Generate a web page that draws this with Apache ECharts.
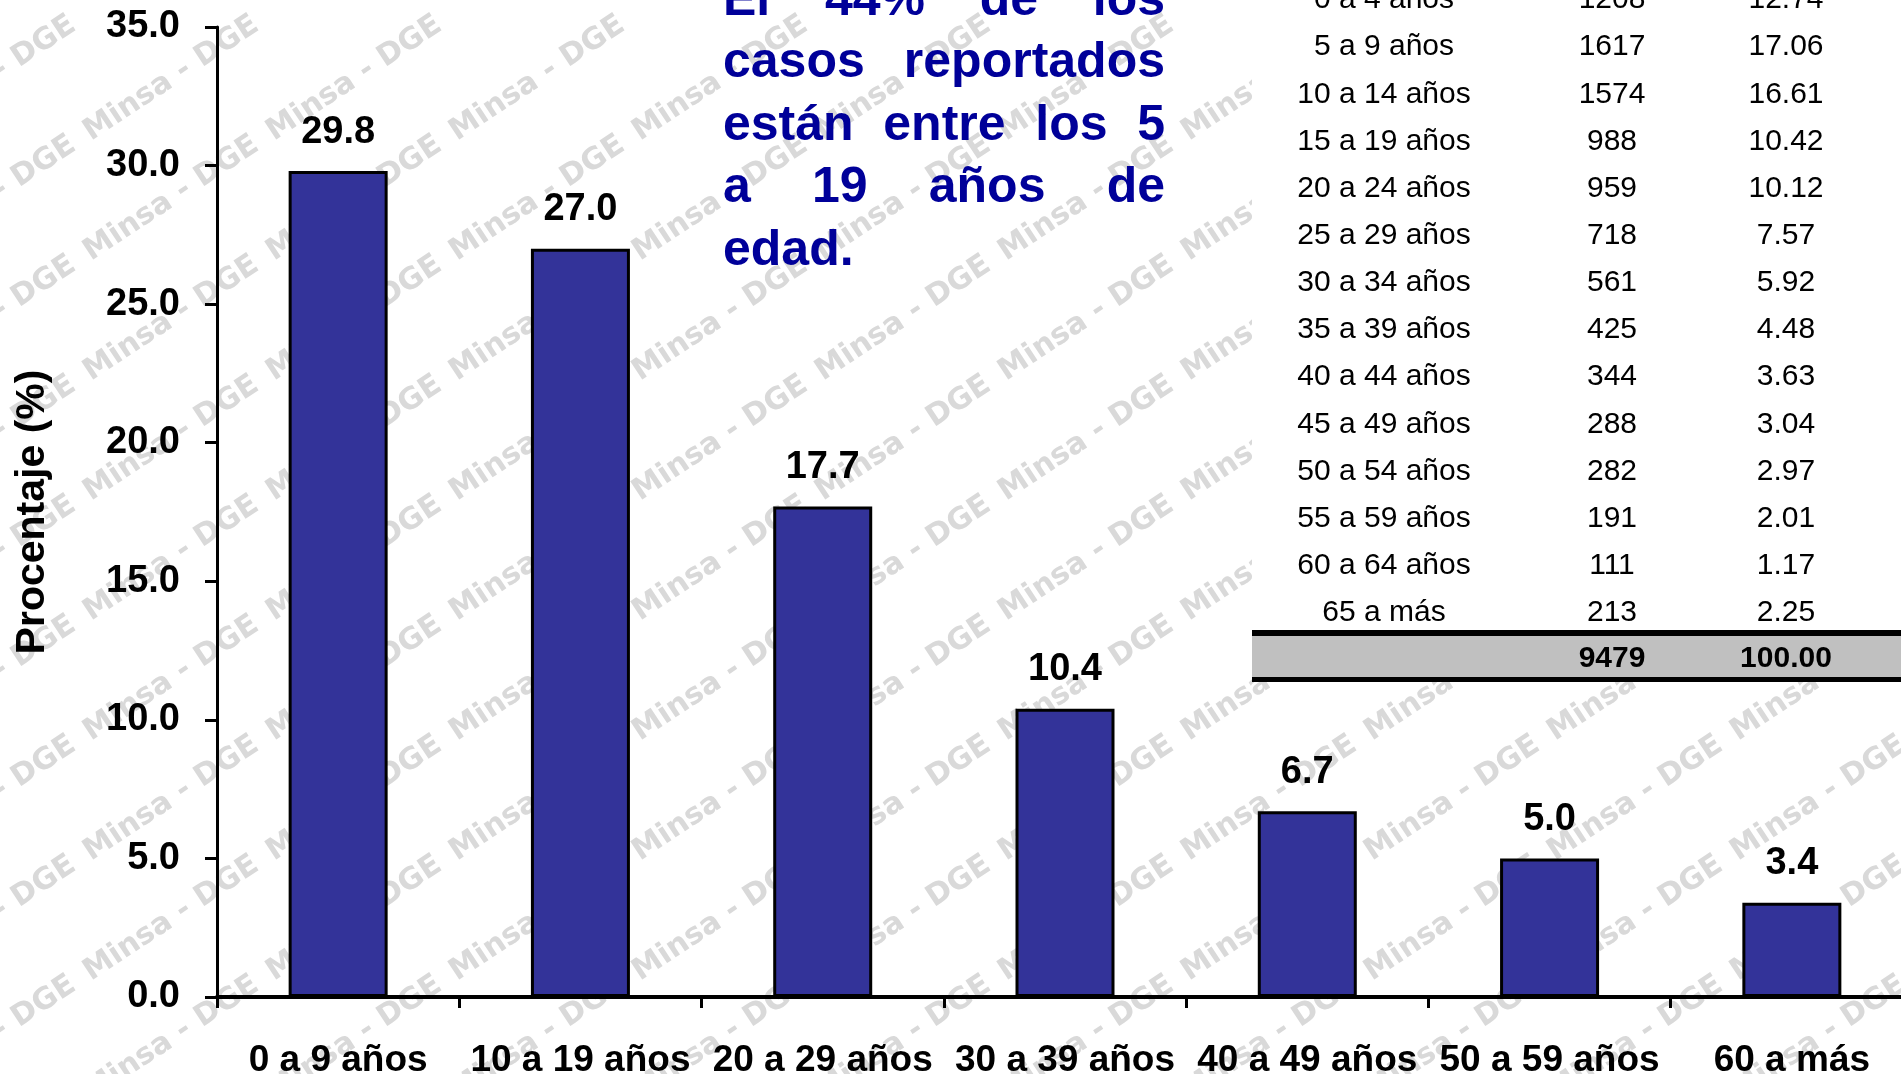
<!DOCTYPE html>
<html>
<head>
<meta charset="utf-8">
<title>Casos reportados por grupo de edad</title>
<script src="https://cdn.jsdelivr.net/npm/echarts@6/dist/echarts.min.js"></script>
<style>
  html, body { margin: 0; padding: 0; background: #fff; }
  #chart { width: 1901px; height: 1074px; }
</style>
</head>
<body>
<div id="chart"></div>
<script>
// barras: % por grupo decenal
const categories = ['0 a 9 años', '10 a 19 años', '20 a 29 años', '30 a 39 años', '40 a 49 años', '50 a 59 años', '60 a más']
const percentages = [29.8, 27.0, 17.7, 10.4, 6.7, 5.0, 3.4]

// tabla quinquenal (esquina superior derecha)
const tableGroups = ['0 a 4 años', '5 a 9 años', '10 a 14 años', '15 a 19 años', '20 a 24 años', '25 a 29 años',
  '30 a 34 años', '35 a 39 años', '40 a 44 años', '45 a 49 años', '50 a 54 años', '55 a 59 años', '60 a 64 años', '65 a más']
const tableCases = [1208, 1617, 1574, 988, 959, 718, 561, 425, 344, 288, 282, 191, 111, 213]
const tablePercents = ['12.74', '17.06', '16.61', '10.42', '10.12', '7.57', '5.92', '4.48', '3.63', '3.04', '2.97', '2.01', '1.17', '2.25']
const tableTotal = ['9479', '100.00']

const noteLines = ['El 44% de los', 'casos reportados', 'están entre los 5', 'a 19 años de', 'edad.']
const watermark = 'Minsa - DGE'

const FONT = '"Liberation Sans", Arial, sans-serif'

const chart = echarts.init(document.getElementById('chart'), null, { renderer: 'canvas' })

// marca de agua en mosaico
function watermarkElements() {
  const out = []
  for (let k = -3; k <= 10; k++) {
    for (let m = -2; m <= 9; m++) {
      out.push({
        type: 'text', silent: true, z: -10,
        x: 461 + 183 * k, y: 387 + 120 * m,
        rotation: 33.5 * Math.PI / 180,
        style: { text: watermark, font: 'bold 30px "DejaVu Sans", sans-serif', fill: '#d9d9d9', textAlign: 'left', textVerticalAlign: 'bottom' },
      })
    }
  }
  return out
}

// texto justificado: cada palabra colocada a mano
function noteElements() {
  const ctx = document.createElement('canvas').getContext('2d')
  const font = 'bold 50px ' + FONT
  ctx.font = font
  const left = 723, right = 1165
  const out = []
  noteLines.forEach((line, i) => {
    const y = 13 + 62.5 * i - 12
    const words = line.split(' ')
    const widths = words.map((w) => ctx.measureText(w).width)
    const last = i === noteLines.length - 1
    const gap = last || words.length < 2
      ? ctx.measureText(' ').width
      : (right - left - widths.reduce((a, b) => a + b, 0)) / (words.length - 1)
    let x = left
    words.forEach((w, j) => {
      out.push({ type: 'text', z: 5, x, y, style: { text: w, font, fill: '#000099', textAlign: 'left', textVerticalAlign: 'middle' } })
      x += widths[j] + gap
    })
  })
  return out
}

function tableElements() {
  const out = [
    { type: 'rect', z: -5, silent: true, shape: { x: 1252, y: 0, width: 649, height: 631 }, style: { fill: '#fff' } },
    { type: 'rect', z: 4, shape: { x: 1252, y: 630, width: 649, height: 6 }, style: { fill: '#000' } },
    { type: 'rect', z: 4, shape: { x: 1252, y: 636, width: 649, height: 41 }, style: { fill: '#c0c0c0' } },
    { type: 'rect', z: 4, shape: { x: 1252, y: 677, width: 649, height: 5 }, style: { fill: '#000' } },
  ]
  const cols = [1384, 1612, 1786]
  const txt = (s, x, y, bold) => ({
    type: 'text', z: 5, x, y,
    style: { text: s, font: (bold ? 'bold ' : '') + '30px ' + FONT, fill: '#000', textAlign: 'center', textVerticalAlign: 'middle' },
  })
  tableGroups.forEach((g, i) => {
    const y = 0 + 47.15 * i
    out.push(txt(g, cols[0], y), txt(String(tableCases[i]), cols[1], y), txt(tablePercents[i], cols[2], y))
  })
  out.push(txt(tableTotal[0], cols[1], 659, true), txt(tableTotal[1], cols[2], 659, true))
  return out
}

const option = {
  backgroundColor: '#fff',
  animation: false,
  grid: { left: 217, top: 27, width: 1696, height: 970, containLabel: false, outerBoundsMode: 'none' },
  xAxis: {
    type: 'category',
    data: categories,
    axisLine: { lineStyle: { color: '#000', width: 4 } },
    axisTick: { show: true, length: 11, lineStyle: { color: '#000', width: 3 } },
    axisLabel: { color: '#000', fontSize: 37, fontWeight: 'bold', fontFamily: FONT, margin: 45, interval: 0 },
  },
  yAxis: {
    type: 'value',
    min: 0,
    max: 35,
    interval: 5,
    name: 'Procentaje (%)',
    nameLocation: 'middle',
    nameGap: 164,
    nameRotate: 90,
    nameTextStyle: { color: '#000', fontSize: 41, fontWeight: 'bold', fontFamily: FONT },
    axisLine: { show: true, lineStyle: { color: '#000', width: 3 } },
    axisTick: { show: true, length: 12, lineStyle: { color: '#000', width: 3 } },
    axisLabel: { color: '#000', fontSize: 38, fontWeight: 'bold', fontFamily: FONT, margin: 37, formatter: (v) => v.toFixed(1) },
    splitLine: { show: false },
  },
  series: [
    {
      type: 'bar',
      data: percentages,
      barWidth: 99,
      itemStyle: { color: '#333399', borderColor: '#000', borderWidth: 3 },
      label: {
        show: true, position: 'top', distance: 20,
        color: '#000', fontSize: 38, fontWeight: 'bold', fontFamily: FONT,
        formatter: (p) => p.value.toFixed(1),
      },
    },
  ],
  graphic: { elements: [...watermarkElements(), ...tableElements(), ...noteElements()] },
}

chart.setOption(option)
</script>
</body>
</html>
